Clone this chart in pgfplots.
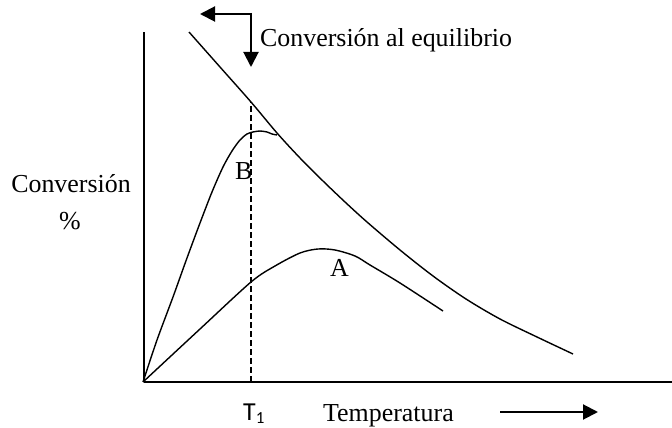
\documentclass[border=0pt]{standalone}
\usepackage{fontspec}
\setmainfont{Liberation Serif}
\newfontfamily\carlito{Carlito}
\usepackage{pgfplots}
\pgfplotsset{compat=1.18}
\usetikzlibrary{arrows.meta}
\begin{document}
\fontsize{26}{30}\selectfont
\begin{tikzpicture}
\path[use as bounding box] (0,0) rectangle (672bp,428bp);
\begin{axis}[
  at={(144bp,46bp)}, anchor=south west,
  scale only axis, width=528bp, height=350bp,
  xmin=144, xmax=672, ymin=46, ymax=396,
  axis lines=left, axis line style={-, line width=1.6bp},
  ticks=none, clip=false,
  every axis plot/.append style={line width=1.4bp, black},
]
% equilibrium conversion
\addplot[smooth, tension=0.5] coordinates {
 (189,396) (220,361) (251,326) (277,295) (300,270) (323,247) (345,226)
 (367,206) (400,178) (433,152) (466,129) (500,109) (537,91) (573,74)};
% curve B
\addplot[smooth, tension=0.5] coordinates {
 (143,46) (157,88) (173,131) (187,170) (200,205) (212,236) (223,261)
 (232,277) (240,288) (247,294) (253,296) (260,297) (267,296) (272,294) (277,293)};
% curve A
\addplot[smooth, tension=0.5] coordinates {
 (143,46) (200,99) (251,146) (275,162) (300,175) (318,179) (335,178)
 (355,172) (370,163) (400,145) (443,117)};
% dashed T1
\addplot[dash pattern=on 6bp off 3bp, line width=1.4bp] coordinates {(251,46) (251,326)};
% labels
\node[anchor=base west, inner sep=0] at (axis cs:260,381) {Conversión al equilibrio};
\node[anchor=base, inner sep=0] at (axis cs:71,235) {Conversión};
\node[anchor=base, inner sep=0] at (axis cs:70,198) {\%};
\node[anchor=base west, inner sep=0] at (axis cs:243,7) {\carlito T\raisebox{-3bp}{\fontsize{17}{18}\selectfont 1}};
\node[anchor=base west, inner sep=0] at (axis cs:323,6) {Temperatura};
\node[anchor=base west, inner sep=0] at (axis cs:235,248) {B};
\node[anchor=base west, inner sep=0] at (axis cs:330,151) {A};
% arrows
\draw[line width=2bp, -{Triangle[length=15bp,width=15bp]}] (axis cs:500,16) -- (axis cs:598,16);
\draw[line width=2bp, -{Triangle[length=15bp,width=15bp]}] (axis cs:251,414) -- (axis cs:200,414);
\draw[line width=2bp, -{Triangle[length=15bp,width=15bp]}] (axis cs:251,415) -- (axis cs:251,361);
\end{axis}
\end{tikzpicture}
\end{document}
